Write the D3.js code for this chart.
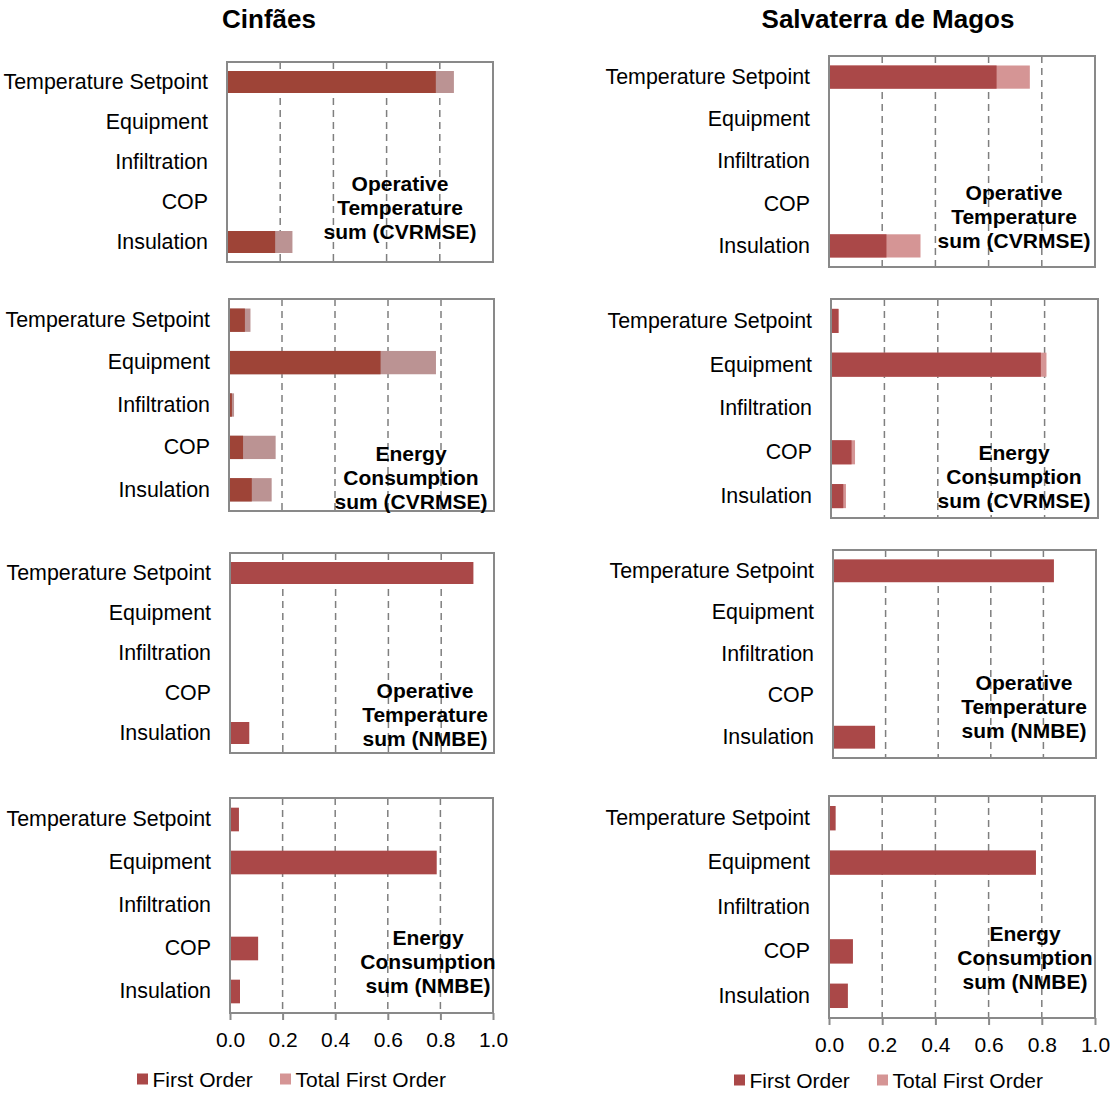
<!DOCTYPE html>
<html>
<head>
<meta charset="utf-8">
<script src="https://cdn.jsdelivr.net/npm/d3@7"></script>
<style>
    body { margin: 0; background: #fff; }
    svg { display: block; font-family: "Liberation Sans", Arial, sans-serif; }
</style>
</head>
<body>
<div id="chart"></div>
<script>
//Datos
const CATEGORIES = ['Temperature Setpoint', 'Equipment', 'Infiltration', 'COP', 'Insulation'];
const TICKS = [0, 0.2, 0.4, 0.6, 0.8, 1.0];
const SITES = ['Cinfães', 'Salvaterra de Magos'];
const SERIES = ['First Order', 'Total First Order'];

// Cinfães
const cinfaesOtCvrmseFirst = [0.785, 0, 0, 0, 0.181];
const cinfaesOtCvrmseTotal = [0.853, 0, 0, 0, 0.246];
const cinfaesEcCvrmseFirst = [0.060, 0.572, 0.011, 0.053, 0.086];
const cinfaesEcCvrmseTotal = [0.081, 0.781, 0.019, 0.176, 0.161];
const cinfaesOtNmbeFirst = [0.922, 0, 0, 0, 0.073];
const cinfaesEcNmbeFirst = [0.034, 0.786, 0, 0.107, 0.038];

// Salvaterra de Magos
const salvOtCvrmseFirst = [0.630, 0.002, 0, 0, 0.216];
const salvOtCvrmseTotal = [0.755, 0.003, 0, 0, 0.344];
const salvEcCvrmseFirst = [0.027, 0.786, 0, 0.077, 0.046];
const salvEcCvrmseTotal = [0.030, 0.807, 0, 0.090, 0.056];
const salvOtNmbeFirst = [0.840, 0, 0, 0, 0.160];
const salvEcNmbeFirst = [0.025, 0.778, 0, 0.090, 0.071];

const LABEL_OT_CVRMSE = ['Operative', 'Temperature', 'sum (CVRMSE)'];
const LABEL_EC_CVRMSE = ['Energy', 'Consumption', 'sum (CVRMSE)'];
const LABEL_OT_NMBE = ['Operative', 'Temperature', 'sum (NMBE)'];
const LABEL_EC_NMBE = ['Energy', 'Consumption', 'sum (NMBE)'];

//Colores
const DARK_1 = '#9E4437', LIGHT_1 = '#BB9393',
DARK_2 = '#AA4848', LIGHT_2 = '#D59595',
BORDER = '#898989', GRID = '#7F7F7F';

// box = [left, top, right, bottom], note = [centerX, firstLineY]
const PANELS = [
    {first: cinfaesOtCvrmseFirst, total: cinfaesOtCvrmseTotal, label: LABEL_OT_CVRMSE, box: [227, 62, 493, 262], note: [400, 183], dark: DARK_1, light: LIGHT_1},
    {first: cinfaesEcCvrmseFirst, total: cinfaesEcCvrmseTotal, label: LABEL_EC_CVRMSE, box: [229, 299, 494, 511], note: [411, 453], dark: DARK_1, light: LIGHT_1},
    {first: cinfaesOtNmbeFirst, total: null, label: LABEL_OT_NMBE, box: [230, 553, 494, 753], note: [425, 690], dark: DARK_2, light: LIGHT_2},
    {first: cinfaesEcNmbeFirst, total: null, label: LABEL_EC_NMBE, box: [230, 798, 493, 1013], note: [428, 937], dark: DARK_2, light: LIGHT_2, axis: true},
    {first: salvOtCvrmseFirst, total: salvOtCvrmseTotal, label: LABEL_OT_CVRMSE, box: [829, 56, 1095, 267], note: [1014, 192], dark: DARK_2, light: LIGHT_2},
    {first: salvEcCvrmseFirst, total: salvEcCvrmseTotal, label: LABEL_EC_CVRMSE, box: [831, 299, 1098, 518], note: [1014, 452], dark: DARK_2, light: LIGHT_2},
    {first: salvOtNmbeFirst, total: null, label: LABEL_OT_NMBE, box: [833, 550, 1096, 758], note: [1024, 682], dark: DARK_2, light: LIGHT_2},
    {first: salvEcNmbeFirst, total: null, label: LABEL_EC_NMBE, box: [829, 796, 1095, 1018], note: [1025, 933], dark: DARK_2, light: LIGHT_2, axis: true}
];

init();

function init() {
    let svg = d3.select('#chart')
        .append('svg')
            .attr('width', 1112)
            .attr('height', 1093);

    //Títulos
    svg.selectAll('.site-title')
        .data(SITES)
        .enter()
        .append('text')
            .attr('class', 'site-title')
            .attr('x', function(d, i) { return i == 0 ? 269 : 888; })
            .attr('y', 28)
            .attr('text-anchor', 'middle')
            .style('font-size', '26px')
            .style('font-weight', 'bold')
            .text(function(d) { return d; });

    PANELS.forEach(function(p) { drawPanel(svg, p); });

    //Leyendas
    drawLegend(svg, 137, 1079);
    drawLegend(svg, 734, 1080);
}

function drawPanel(svg, p) {
    let [left, top, right, bottom] = p.box;

    let x = d3.scaleLinear()
        .domain([0, 1])
        .range([left, right]);

    let y = d3.scaleBand()
        .domain(CATEGORIES)
        .range([top, bottom])
        .paddingInner(0.45)
        .paddingOuter(0.225);

    let g = svg.append('g');

    // dashed grid
    g.selectAll('.grid')
        .data(TICKS.slice(1, -1))
        .enter()
        .append('line')
            .attr('x1', function(d) { return x(d); })
            .attr('x2', function(d) { return x(d); })
            .attr('y1', top)
            .attr('y2', bottom)
            .attr('stroke', GRID)
            .attr('stroke-width', 1.5)
            .attr('stroke-dasharray', '7,5');

    let rows = CATEGORIES.map(function(c, i) {
        return {cat: c, first: p.first[i], total: p.total ? p.total[i] : null};
    });

    if (p.total) {
        g.selectAll('.bar-total')
            .data(rows)
            .enter()
            .append('rect')
                .attr('x', x(0))
                .attr('y', function(d) { return y(d.cat); })
                .attr('width', function(d) { return x(d.total) - x(0); })
                .attr('height', y.bandwidth())
                .attr('fill', p.light);
    }

    g.selectAll('.bar-first')
        .data(rows)
        .enter()
        .append('rect')
            .attr('x', x(0))
            .attr('y', function(d) { return y(d.cat); })
            .attr('width', function(d) { return x(d.first) - x(0); })
            .attr('height', y.bandwidth())
            .attr('fill', p.dark);

    // marco
    g.append('rect')
        .attr('x', left)
        .attr('y', top)
        .attr('width', right - left)
        .attr('height', bottom - top)
        .attr('fill', 'none')
        .attr('stroke', BORDER)
        .attr('stroke-width', 2);

    let yAxis = g.append('g')
        .attr('transform', 'translate(' + left + ',0)')
        .call(d3.axisLeft(y).tickSize(0).tickPadding(19));
    yAxis.select('.domain').remove();
    yAxis.selectAll('text')
        .style('font-size', '21.4px')
        .style('font-family', '"Liberation Sans", Arial, sans-serif')
        .attr('fill', '#000');

    if (p.axis) {
        let xAxis = g.append('g')
            .attr('transform', 'translate(0,' + bottom + ')')
            .call(d3.axisBottom(x).tickValues(TICKS).tickFormat(d3.format('.1f')).tickSize(7).tickPadding(12));
        xAxis.select('.domain').remove();
        xAxis.selectAll('.tick line')
            .attr('stroke', BORDER)
            .attr('stroke-width', 2);
        xAxis.selectAll('text')
            .style('font-size', '21px')
            .style('font-family', '"Liberation Sans", Arial, sans-serif')
            .attr('fill', '#000');
    }

    // texto del panel
    g.append('text')
        .attr('text-anchor', 'middle')
        .style('font-size', '21px')
        .style('font-weight', 'bold')
        .selectAll('tspan')
        .data(p.label)
        .enter()
        .append('tspan')
            .attr('x', p.note[0])
            .attr('y', function(d, i) { return p.note[1] + 7.5 + i * 24; })
            .text(function(d) { return d; });
}

function drawLegend(svg, x0, cy) {
    let colors = [DARK_2, LIGHT_2];
    let offsets = [0, 143];
    let lg = svg.append('g');
    SERIES.forEach(function(s, i) {
        lg.append('rect')
            .attr('x', x0 + offsets[i])
            .attr('y', cy - 5.5)
            .attr('width', 11)
            .attr('height', 11)
            .attr('fill', colors[i]);
        lg.append('text')
            .attr('x', x0 + offsets[i] + 15.5)
            .attr('y', cy + 7.5)
            .style('font-size', '21px')
            .text(s);
    });
}
</script>
</body>
</html>
